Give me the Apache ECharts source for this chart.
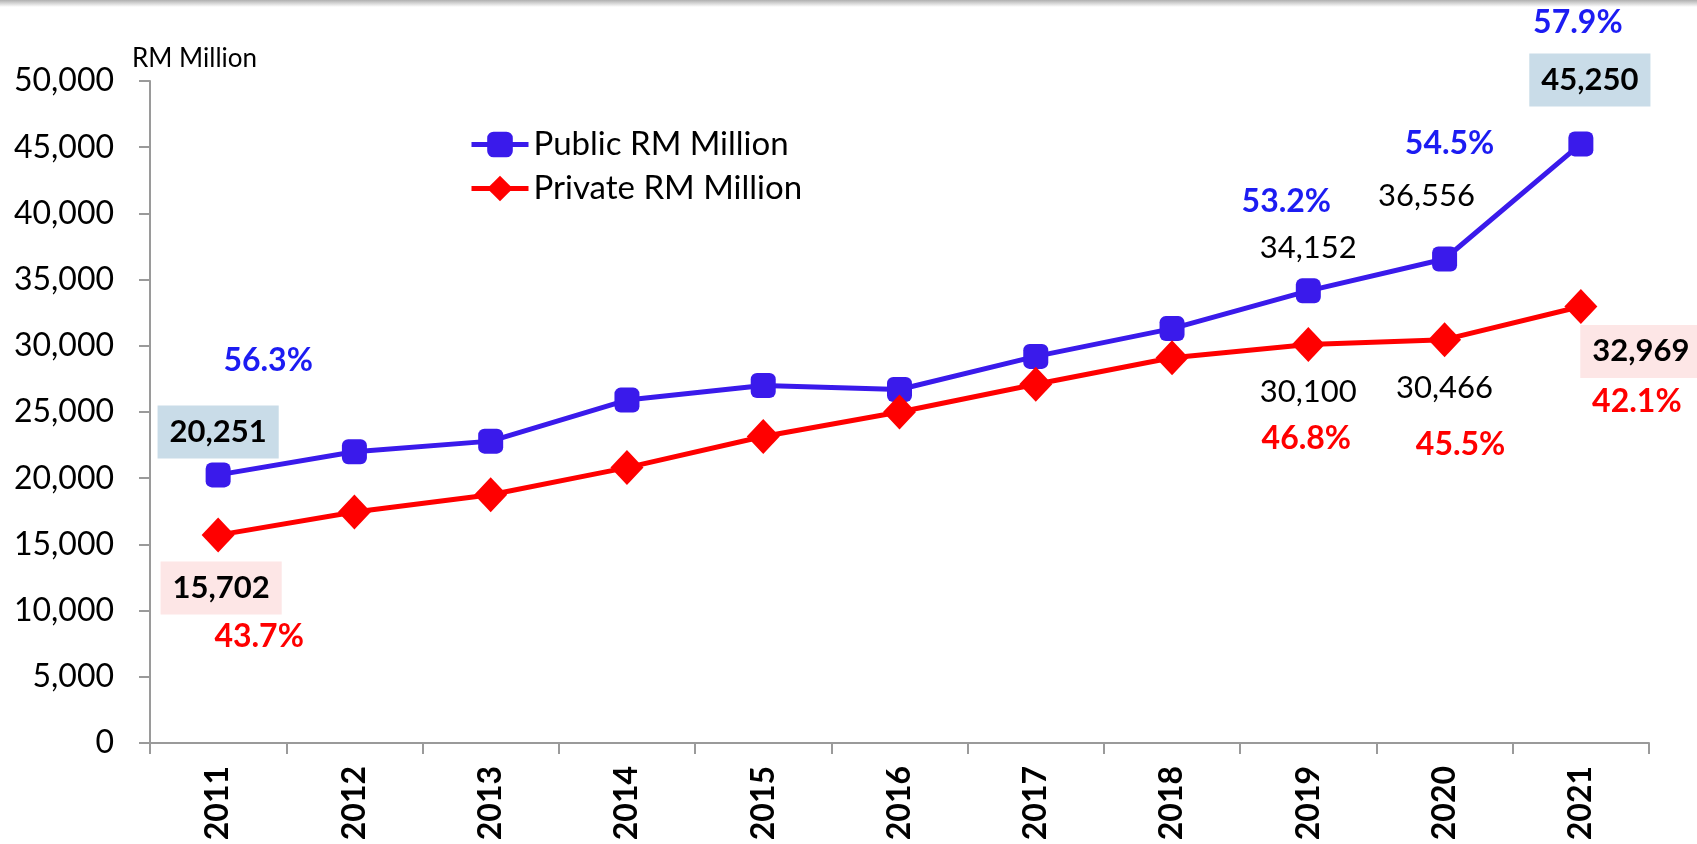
<!DOCTYPE html>
<html>
<head>
<meta charset="utf-8">
<script src="https://cdn.jsdelivr.net/npm/echarts@6/dist/echarts.min.js"></script>
<style>
  html, body { margin: 0; padding: 0; background: #fff; }
  #chart { width: 1697px; height: 844px; }
</style>
</head>
<body>
<div id="chart"></div>
<script>
// data
var years = ['2011', '2012', '2013', '2014', '2015', '2016', '2017', '2018', '2019', '2020', '2021']
var publicValues = [20251, 22000, 22800, 25900, 27000, 26700, 29200, 31300, 34152, 36556, 45250]
var privateValues = [15702, 17450, 18750, 20800, 23150, 25000, 27100, 29100, 30100, 30466, 32969]
var publicShare = ['56.3%', null, null, null, null, null, null, null, '53.2%', '54.5%', '57.9%']
var privateShare = ['43.7%', null, null, null, null, null, null, null, '46.8%', '45.5%', '42.1%']
var yTicks = [0, 50000, 5000] // min, max, step

// where the labels sit (index -> offset from the point), and which get a box
var pubValuePos = { 0: [0, -43, 1], 8: [0, -43, 0], 9: [-18, -63, 0], 10: [9, -64, 1] }
var pubSharePos = { 0: [50, -114], 8: [-22, -89], 9: [5, -115], 10: [-3, -121] }
var priValuePos = { 0: [3, 53, 1], 8: [0, 48, 0], 9: [0, 48, 0], 10: [60, 45, 1] }
var priSharePos = { 0: [41, 102], 8: [-2, 94], 9: [16, 105], 10: [56, 95] }

var FONT = 'Lato'
var BLUE = '#3a1aeb'
var RED = '#ff0000'

function fmt(v) {
    return v.toLocaleString('en-US')
}

function valueItems(values, pos, boxColor) {
    return values.map(function (v, i) {
        var p = pos[i]
        if (!p) return v
        return {
            value: v,
            label: {
                show: true,
                position: 'inside',
                offset: [p[0], p[1]],
                formatter: fmt(v),
                color: '#000',
                fontFamily: FONT,
                fontSize: 31,
                fontWeight: p[2] ? 'bold' : 'normal',
                backgroundColor: p[2] ? boxColor : 'transparent',
                padding: p[2] ? [12, 12, 10, 12] : 0
            }
        }
    })
}

function shareItems(values, shares, pos, color) {
    return values.map(function (v, i) {
        var p = pos[i]
        if (!p) return v
        return {
            value: v,
            label: {
                show: true,
                position: 'inside',
                offset: p,
                formatter: shares[i],
                color: color,
                fontFamily: FONT,
                fontSize: 32,
                fontWeight: 'bold'
            }
        }
    })
}

var chart = echarts.init(document.getElementById('chart'))

chart.setOption({
    animation: false,
    textStyle: { fontFamily: FONT },
    title: {
        text: 'RM Million',
        left: 127,
        top: 41,
        textStyle: { fontFamily: FONT, fontSize: 26, fontWeight: 'normal', color: '#000' }
    },
    graphic: [{
        type: 'rect',
        left: 0,
        top: 0,
        shape: { width: 1697, height: 7 },
        style: {
            fill: new echarts.graphic.LinearGradient(0, 0, 0, 1, [
                { offset: 0, color: '#b0b0b0' },
                { offset: 1, color: '#ffffff' }
            ])
        },
        silent: true
    }],
    legend: {
        data: ['Public RM Million', 'Private RM Million'],
        orient: 'vertical',
        left: 464,
        top: 123,
        itemWidth: 57,
        itemHeight: 32,
        itemGap: 11,
        lineStyle: { width: 5 },
        textStyle: { fontFamily: FONT, fontSize: 33, color: '#000', lineHeight: 32 }
    },
    grid: {
        left: 150,
        right: 48,
        top: 81,
        bottom: 101
    },
    xAxis: {
        type: 'category',
        data: years,
        boundaryGap: true,
        axisLine: { lineStyle: { color: '#9a9a9a', width: 2 } },
        axisTick: { show: true, length: 11, lineStyle: { color: '#9a9a9a', width: 2 } },
        axisLabel: {
            rotate: 90,
            margin: 23,
            color: '#000',
            fontFamily: FONT,
            fontSize: 32,
            fontWeight: 'bold'
        }
    },
    yAxis: {
        type: 'value',
        min: yTicks[0],
        max: yTicks[1],
        interval: yTicks[2],
        splitLine: { show: false },
        axisLine: { show: true, lineStyle: { color: '#9a9a9a', width: 2 } },
        axisTick: { show: true, length: 11, lineStyle: { color: '#9a9a9a', width: 2 } },
        axisLabel: {
            margin: 36,
            color: '#000',
            fontFamily: FONT,
            fontSize: 32,
            formatter: function (v) { return fmt(v) }
        }
    },
    series: [
        {
            name: 'Public RM Million',
            type: 'line',
            data: valueItems(publicValues, pubValuePos, '#c9dce8'),
            symbol: 'roundRect',
            symbolSize: 25,
            lineStyle: { color: BLUE, width: 5 },
            itemStyle: { color: BLUE },
            z: 3
        },
        {
            name: 'Private RM Million',
            type: 'line',
            data: valueItems(privateValues, priValuePos, '#fde6e6'),
            symbol: 'diamond',
            symbolSize: [33, 35],
            lineStyle: { color: RED, width: 5 },
            itemStyle: { color: RED },
            z: 3
        },
        {
            name: 'publicShare',
            type: 'line',
            data: shareItems(publicValues, publicShare, pubSharePos, '#1c1cf2'),
            symbol: 'circle',
            symbolSize: 0.1,
            lineStyle: { width: 0, opacity: 0 },
            itemStyle: { color: 'transparent' },
            silent: true,
            z: 4
        },
        {
            name: 'privateShare',
            type: 'line',
            data: shareItems(privateValues, privateShare, priSharePos, RED),
            symbol: 'circle',
            symbolSize: 0.1,
            lineStyle: { width: 0, opacity: 0 },
            itemStyle: { color: 'transparent' },
            silent: true,
            z: 4
        }
    ]
})
</script>
</body>
</html>
